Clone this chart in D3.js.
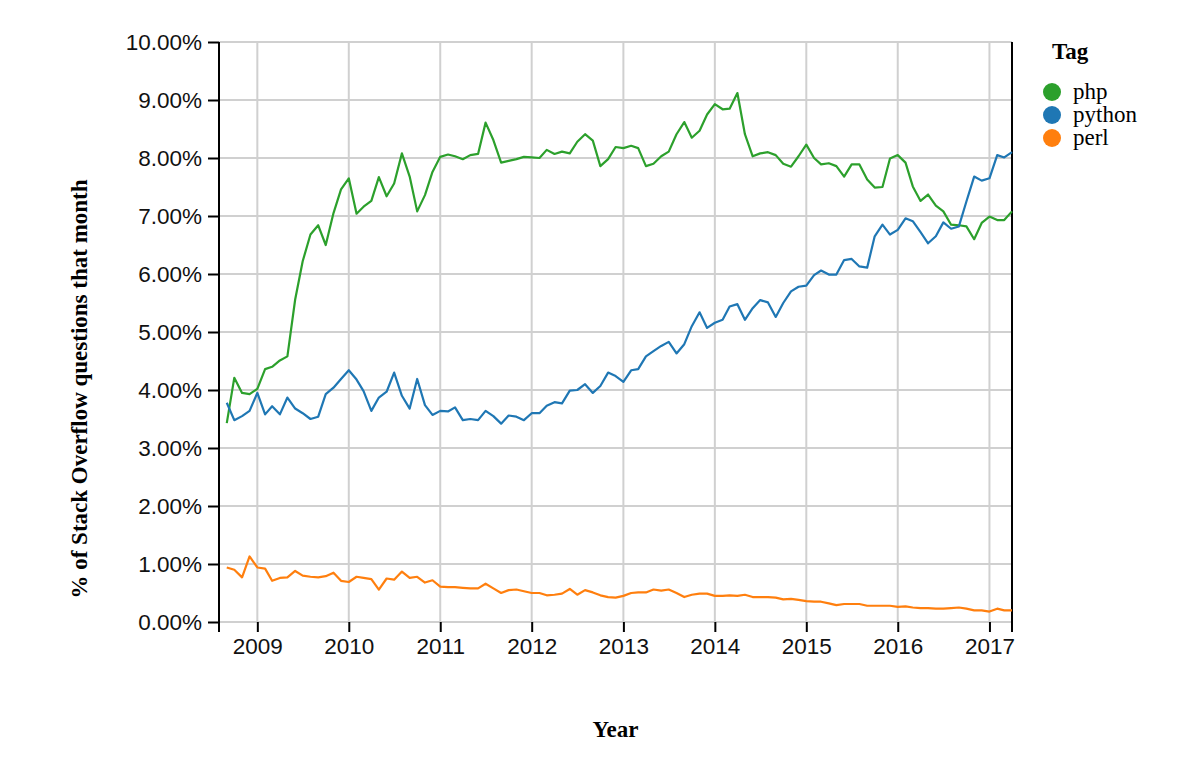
<!DOCTYPE html>
<html>
<head>
<meta charset="utf-8">
<script src="https://cdn.jsdelivr.net/npm/d3@7"></script>
<style>
  html, body { margin: 0; padding: 0; background: #fff; }
  svg { display: block; }
</style>
</head>
<body>
<svg id="chart" width="1200" height="783"></svg>
<script>
// ---- data (monthly share of Stack Overflow questions, %) ----
const startMonth = "2008-09";
const tags = ["php", "python", "perl"];
const tagColors = ["#2ca02c", "#1f77b4", "#ff7f0e"];

const php = [
  3.43, 4.21, 3.95, 3.93,
  4.02, 4.36, 4.40, 4.51, 4.58, 5.56, 6.22, 6.68, 6.84, 6.50, 7.05, 7.46,
  7.65, 7.04, 7.16, 7.26, 7.67, 7.34, 7.56, 8.08, 7.68, 7.08, 7.36, 7.76,
  8.02, 8.06, 8.03, 7.98, 8.05, 8.07, 8.61, 8.31, 7.92, 7.95, 7.98, 8.02,
  8.01, 8.00, 8.14, 8.07, 8.11, 8.08, 8.28, 8.41, 8.30, 7.86, 7.98, 8.19,
  8.17, 8.21, 8.17, 7.86, 7.90, 8.03, 8.11, 8.41, 8.62, 8.35, 8.47, 8.75,
  8.93, 8.84, 8.85, 9.12, 8.41, 8.03, 8.08, 8.10, 8.05, 7.90, 7.85, 8.03,
  8.23, 8.00, 7.89, 7.91, 7.86, 7.68, 7.89, 7.89, 7.63, 7.49, 7.50, 7.99,
  8.05, 7.92, 7.51, 7.26, 7.37, 7.18, 7.08, 6.85, 6.84, 6.82, 6.60, 6.88,
  6.99, 6.93, 6.93, 7.08
];
const python = [
  3.78, 3.48, 3.55, 3.64,
  3.95, 3.58, 3.72, 3.58, 3.87, 3.68, 3.60, 3.50, 3.54, 3.93, 4.04, 4.19,
  4.34, 4.18, 3.98, 3.64, 3.87, 3.97, 4.30, 3.90, 3.68, 4.19, 3.74, 3.57,
  3.64, 3.63, 3.70, 3.48, 3.50, 3.48, 3.64, 3.55, 3.42, 3.56, 3.54, 3.48,
  3.60, 3.60, 3.73, 3.79, 3.77, 3.99, 4.00, 4.10, 3.95, 4.07, 4.30, 4.24,
  4.14, 4.34, 4.36, 4.58, 4.67, 4.76, 4.83, 4.63, 4.79, 5.10, 5.34, 5.07,
  5.16, 5.21, 5.44, 5.48, 5.21, 5.41, 5.55, 5.51, 5.26, 5.50, 5.70, 5.78,
  5.80, 5.98, 6.06, 5.99, 5.99, 6.24, 6.26, 6.13, 6.11, 6.65, 6.85, 6.68,
  6.76, 6.96, 6.91, 6.72, 6.53, 6.65, 6.89, 6.78, 6.82, 7.25, 7.68, 7.61,
  7.65, 8.05, 8.01, 8.10
];
const perl = [
  0.94, 0.90, 0.77, 1.13,
  0.94, 0.92, 0.71, 0.76, 0.77, 0.88, 0.80, 0.78, 0.77, 0.79, 0.85, 0.71,
  0.69, 0.78, 0.76, 0.74, 0.56, 0.75, 0.73, 0.87, 0.76, 0.78, 0.68, 0.72,
  0.61, 0.60, 0.60, 0.59, 0.58, 0.58, 0.66, 0.58, 0.50, 0.55, 0.56, 0.53,
  0.50, 0.50, 0.46, 0.47, 0.49, 0.57, 0.47, 0.55, 0.51, 0.46, 0.43, 0.42,
  0.45, 0.50, 0.51, 0.51, 0.56, 0.54, 0.56, 0.50, 0.43, 0.47, 0.49, 0.49,
  0.45, 0.45, 0.46, 0.45, 0.47, 0.43, 0.43, 0.43, 0.42, 0.39, 0.40, 0.38,
  0.36, 0.35, 0.35, 0.32, 0.29, 0.31, 0.31, 0.31, 0.28, 0.28, 0.28, 0.28,
  0.26, 0.27, 0.25, 0.24, 0.24, 0.23, 0.23, 0.24, 0.25, 0.23, 0.20, 0.20,
  0.18, 0.23, 0.20, 0.20
];
const seriesValues = [php, python, perl];
const xDomainLabels = ["2008-08", "2017-04"];
const yTicks = [0, 0.01, 0.02, 0.03, 0.04, 0.05, 0.06, 0.07, 0.08, 0.09, 0.10];
const xTitle = "Year";
const yTitle = "% of Stack Overflow questions that month";
const legendTitle = "Tag";

// ---- build ----
(function () {
  const parseMonth = d3.timeParse("%Y-%m");
  const start = parseMonth(startMonth);
  const series = tags.map((t, i) => ({
    tag: t,
    color: tagColors[i],
    values: seriesValues[i].map((v, j) => ({ date: d3.timeMonth.offset(start, j), value: v / 100 }))
  }));

  const mLeft = 219, mRight = 1012, mTop = 42, mBottom = 622;
  const svg = d3.select("#chart");

  const x = d3.scaleTime()
    .domain(xDomainLabels.map(parseMonth))
    .range([mLeft, mRight]);
  const y = d3.scaleLinear().domain([0, 0.10]).range([mBottom, mTop]);

  const gridColor = "#d0d0d0";
  const tickFont = "'Liberation Sans', Arial, Helvetica, sans-serif";
  const titleFont = "'Liberation Serif', 'Times New Roman', Times, serif";

  // gridlines
  const xTickVals = x.ticks(d3.timeYear.every(1));
  svg.append("g")
    .selectAll("line")
    .data(xTickVals)
    .join("line")
    .attr("x1", d => x(d)).attr("x2", d => x(d))
    .attr("y1", mTop).attr("y2", mBottom)
    .attr("stroke", gridColor).attr("stroke-width", 2);
  svg.append("g")
    .selectAll("line")
    .data(yTicks)
    .join("line")
    .attr("x1", mLeft).attr("x2", mRight)
    .attr("y1", d => y(d)).attr("y2", d => y(d))
    .attr("stroke", gridColor).attr("stroke-width", 2);

  // x axis
  const xAxis = svg.append("g")
    .attr("transform", `translate(0,${mBottom})`)
    .call(d3.axisBottom(x).tickValues(xTickVals).tickFormat(d3.timeFormat("%Y")).tickSize(10).tickPadding(6));
  xAxis.select(".domain").remove();
  xAxis.selectAll(".tick line").attr("stroke", "#000").attr("stroke-width", 2);
  xAxis.selectAll("text").attr("font-family", tickFont).attr("font-size", 22.5).attr("fill", "#111");

  // y axis
  const yAxis = svg.append("g")
    .attr("transform", `translate(${mLeft},0)`)
    .call(d3.axisLeft(y).tickValues(yTicks).tickFormat(d3.format(".2%")).tickSize(11).tickPadding(6));
  yAxis.select(".domain").remove();
  yAxis.selectAll(".tick line").attr("stroke", "#000").attr("stroke-width", 2);
  yAxis.selectAll("text").attr("font-family", tickFont).attr("font-size", 22.5).attr("fill", "#111");

  // frame lines (left & right), extending below like outer ticks
  svg.append("g").selectAll("line")
    .data(x.range())
    .join("line")
    .attr("x1", d => d).attr("x2", d => d)
    .attr("y1", mTop).attr("y2", mBottom + 10)
    .attr("stroke", "#000").attr("stroke-width", 2);

  // lines
  const line = d3.line().x(d => x(d.date)).y(d => y(d.value));
  svg.append("g")
    .selectAll("path")
    .data(series)
    .join("path")
    .attr("d", d => line(d.values))
    .attr("fill", "none")
    .attr("stroke", d => d.color)
    .attr("stroke-width", 2.2)
    .attr("stroke-linejoin", "round");

  // axis titles
  svg.append("text")
    .attr("x", (mLeft + mRight) / 2).attr("y", 737)
    .attr("text-anchor", "middle")
    .attr("font-family", titleFont).attr("font-weight", "bold").attr("font-size", 23)
    .text(xTitle);
  svg.append("text")
    .attr("transform", "translate(87,389) rotate(-90)")
    .attr("text-anchor", "middle")
    .attr("font-family", titleFont).attr("font-weight", "bold").attr("font-size", 23)
    .text(yTitle);

  // legend
  const legend = svg.append("g");
  legend.append("text")
    .attr("x", 1052).attr("y", 59)
    .attr("font-family", titleFont).attr("font-weight", "bold").attr("font-size", 23)
    .text(legendTitle);
  const items = legend.selectAll("g.item")
    .data(series)
    .join("g")
    .attr("class", "item")
    .attr("transform", (d, i) => `translate(1052,${92 + i * 23})`);
  items.append("circle").attr("r", 9).attr("fill", d => d.color);
  items.append("text")
    .attr("x", 21).attr("y", 0).attr("dy", "0.32em")
    .attr("font-family", titleFont).attr("font-size", 23)
    .text(d => d.tag);
})();
</script>
</body>
</html>
